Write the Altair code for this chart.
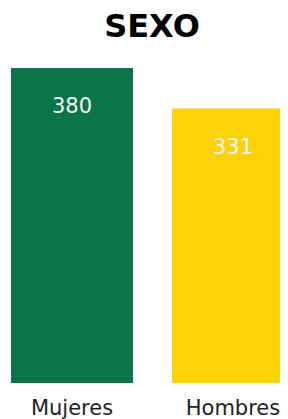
import altair as alt
import pandas as pd

categories = ["Mujeres", "Hombres"]
values = [380, 331]
colors = ["#0B7449", "#FDD208"]

df = pd.DataFrame({"sexo": categories, "total": values})

x = alt.X("sexo:N", sort=categories,
          scale=alt.Scale(range=[0, 289], paddingInner=0.242, paddingOuter=0.0186),
          axis=alt.Axis(title=None, labelAngle=0, domain=False, ticks=False,
                        labelFontSize=21, labelFont="DejaVu Sans", labelFontWeight="normal",
                        labelColor="#1f1f1f", labelPadding=14))
y = alt.Y("total:Q", scale=alt.Scale(domain=[0, 380], nice=False),
          axis=None)

bars = alt.Chart(df).mark_bar(clip=True).encode(
    x=x, y=y,
    color=alt.Color("sexo:N", scale=alt.Scale(domain=categories, range=colors), legend=None),
)

labels = alt.Chart(df).mark_text(
    clip=True, color="#f4f7f2", fontSize=21, font="DejaVu Sans", fontWeight="normal",
    baseline="alphabetic", dy=45
).encode(x=x, y=y, text="total:Q")

chart = (bars + labels).properties(
    width=272, height=315,
    autosize=alt.AutoSizeParams(type="none"),
    padding={"left": 0, "right": 0, "top": 60, "bottom": 36},
    title=alt.TitleParams("SEXO", fontSize=32, font="DejaVu Sans", fontWeight="bold",
                          color="#000000", offset=24, anchor="middle", dx=8),
).configure_view(stroke=None)

chart.save("out.html", embed_options={"renderer": "svg", "actions": False})
